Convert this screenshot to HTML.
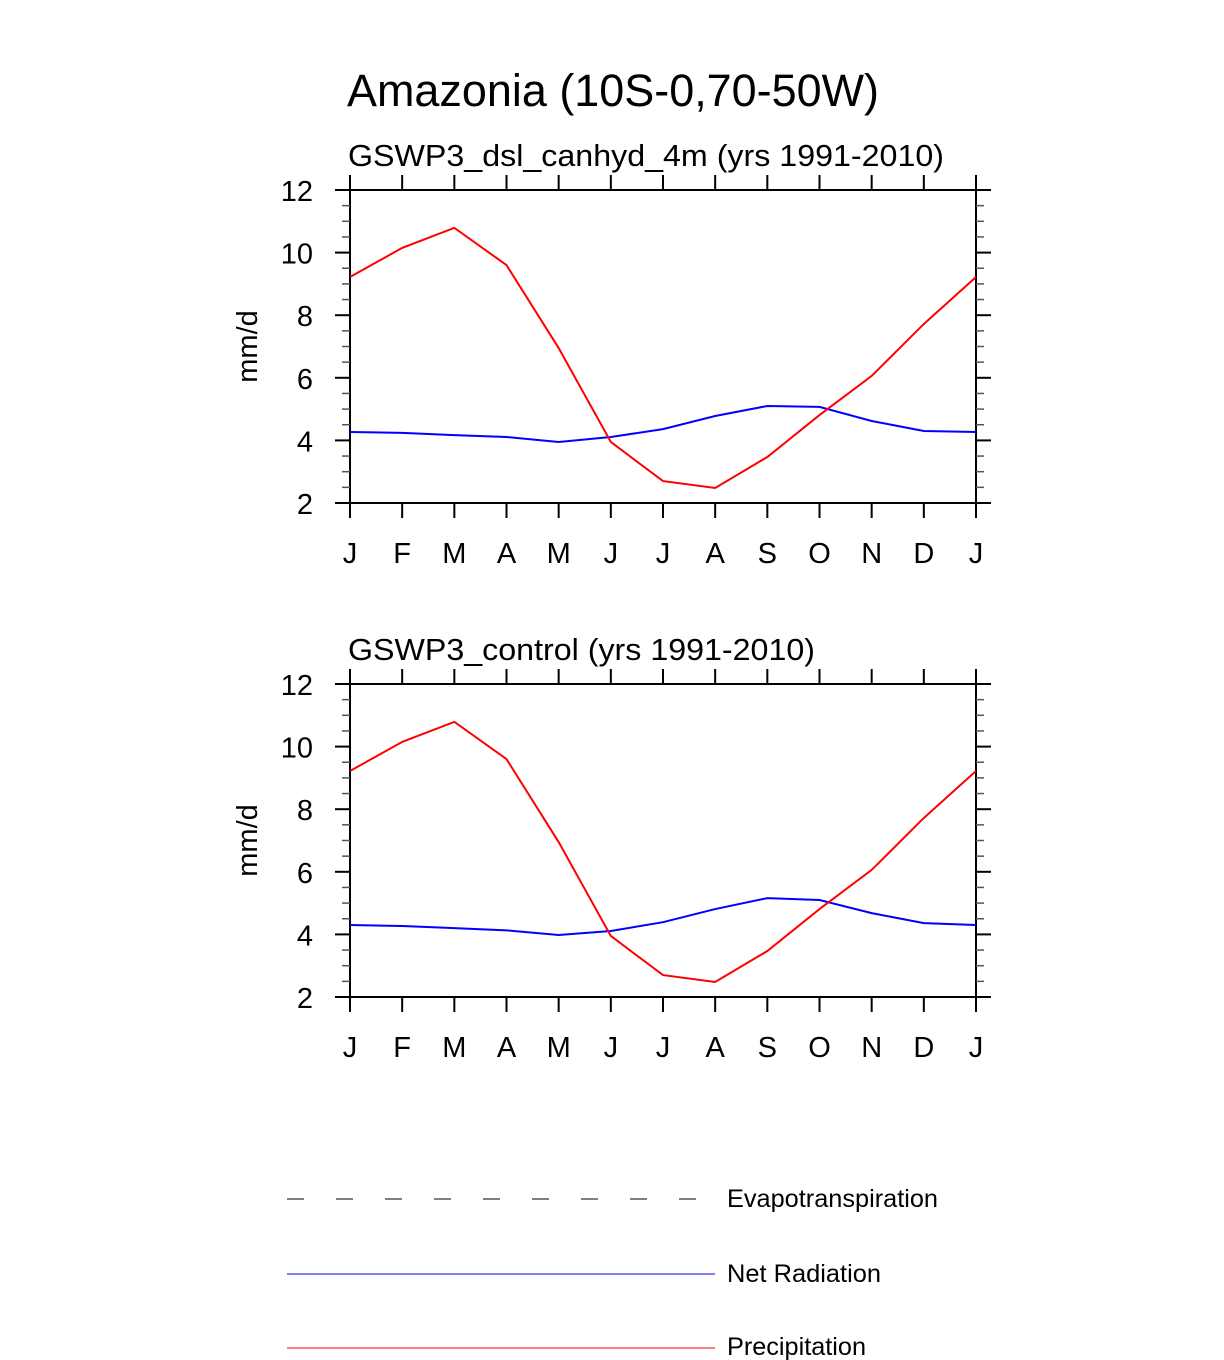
<!DOCTYPE html>
<html><head><meta charset="utf-8"><style>
html,body{margin:0;padding:0;background:#fff;}
svg{display:block;font-family:"Liberation Sans",Arial,sans-serif;}
</style></head><body>
<svg id="chart" width="1224" height="1360" viewBox="0 0 1224 1360" xmlns="http://www.w3.org/2000/svg">
<text x="347" y="106" font-size="45" textLength="532" lengthAdjust="spacingAndGlyphs">Amazonia (10S-0,70-50W)</text>
<g id="panels"></g>
<g>
<line x1="287" y1="1199" x2="715" y2="1199" stroke="#000" stroke-width="1" stroke-dasharray="17,32"/>
<text x="727" y="1207" font-size="25" textLength="211" lengthAdjust="spacingAndGlyphs">Evapotranspiration</text>
<line x1="287" y1="1274" x2="715" y2="1274" stroke="#00f" stroke-width="1"/>
<text x="727" y="1282" font-size="25" textLength="154" lengthAdjust="spacingAndGlyphs">Net Radiation</text>
<line x1="287" y1="1348" x2="715" y2="1348" stroke="#f00" stroke-width="1"/>
<text x="727" y="1355" font-size="25" textLength="139" lengthAdjust="spacingAndGlyphs">Precipitation</text>
</g>
</svg>
<script>
const months = ["J","F","M","A","M","J","J","A","S","O","N","D","J"];
const yTicks = [2,4,6,8,10,12];
const titles = ["GSWP3_dsl_canhyd_4m (yrs 1991-2010)","GSWP3_control (yrs 1991-2010)"];
const titleLens = [596,467];
const precip1 = [9.22,10.15,10.79,9.6,6.95,3.95,2.7,2.48,3.47,4.81,6.06,7.72,9.22];
const netrad1 = [4.27,4.24,4.17,4.11,3.95,4.11,4.36,4.78,5.1,5.07,4.62,4.3,4.27];
const precip2 = [9.22,10.15,10.79,9.6,6.95,3.95,2.7,2.48,3.47,4.81,6.06,7.72,9.22];
const netrad2 = [4.3,4.27,4.2,4.13,3.98,4.11,4.39,4.81,5.16,5.1,4.68,4.36,4.3];
const panelsData = [[precip1,netrad1],[precip2,netrad2]];
const NS="http://www.w3.org/2000/svg";
const root=document.getElementById('panels');
function mk(tag,attrs,parent){const e=document.createElementNS(NS,tag);for(const k in attrs)e.setAttribute(k,attrs[k]);parent.appendChild(e);return e;}
const L=350,R=976,tops=[190,684],H=313;
panelsData.forEach((pd,pi)=>{
  const T=tops[pi],B=T+H;
  const g=mk('g',{},root);
  
  
  const xs=i=>L+(R-L)*i/(months.length-1);
  const ys=v=>B-(v-2)/10*H;
  const t=mk('text',{x:348,y:T-24,'font-size':31,textLength:titleLens[pi],lengthAdjust:'spacingAndGlyphs'},g);t.textContent=titles[pi];
  
  
  const frame=mk('rect',{x:L,y:T,width:R-L,height:H,fill:'none',stroke:'#000','stroke-width':2},g);
  
  
  months.forEach((m,i)=>{
    const x=xs(i);
    mk('line',{x1:x,y1:T-15,x2:x,y2:T,stroke:'#000','stroke-width':2},g);
    mk('line',{x1:x,y1:B,x2:x,y2:B+15,stroke:'#000','stroke-width':2},g);
    const lb=mk('text',{x:x,y:B+60,'font-size':29,'text-anchor':'middle'},g);lb.textContent=m;
    
    
  });
  for(let v=2;v<=12.001;v+=0.5){
    const y=ys(v),major=Math.abs(v-Math.round(v/2)*2)<1e-6;
    const len=major?15:8;
    mk('line',{x1:L-len,y1:y,x2:L,y2:y,stroke:major?'#000':'#555','stroke-width':major?2:1.5},g);
    mk('line',{x1:R,y1:y,x2:R+len,y2:y,stroke:major?'#000':'#555','stroke-width':major?2:1.5},g);
  }
  yTicks.forEach(v=>{
    const lb=mk('text',{x:313,y:ys(v)+11,'font-size':29,'text-anchor':'end'},g);lb.textContent=v;
    
    
  });
  const yl=mk('text',{x:0,y:0,'font-size':29,'text-anchor':'middle',transform:`translate(257,${(T+B)/2}) rotate(-90)`},g);yl.textContent='mm/d';
  
  
  const [pr,nr]=pd;
  const bl=mk('polyline',{points:nr.map((v,i)=>xs(i)+','+ys(v)).join(' '),fill:'none',stroke:'#00f','stroke-width':2},g);
  
  
  const rl=mk('polyline',{points:pr.map((v,i)=>xs(i)+','+ys(v)).join(' '),fill:'none',stroke:'#f00','stroke-width':2},g);
  
  
});
</script>
</body></html>
